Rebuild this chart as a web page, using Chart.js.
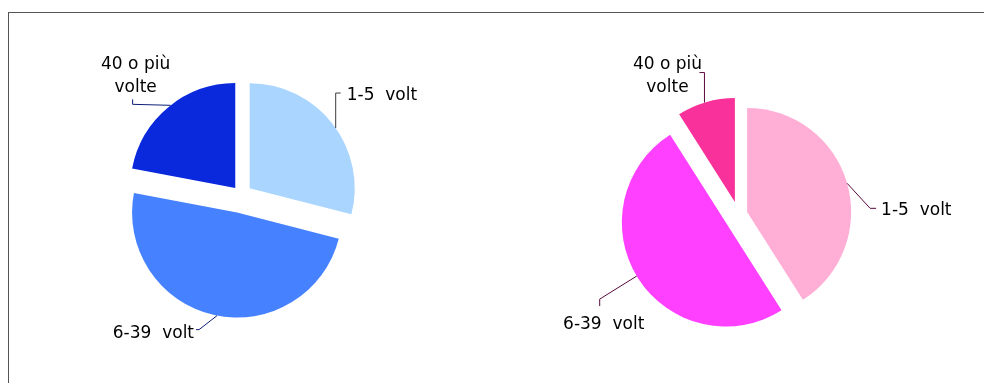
<!DOCTYPE html>
<html>
<head>
<meta charset="utf-8">
<script src="https://cdn.jsdelivr.net/npm/chart.js@4.4.1/dist/chart.umd.min.js"></script>
<style>
  html, body { margin: 0; padding: 0; background: #fff; overflow: hidden; }
  body { width: 984px; height: 383px; position: relative; }
  #frame {
    position: absolute; left: 8px; top: 12px; width: 990px; height: 400px;
    border-top: 1px solid #555; border-left: 1px solid #555;
  }
  canvas { position: absolute; }
  #pieLeft { left: 0px; top: 0px; }
  #pieRight { left: 493px; top: 0px; }
</style>
</head>
<body>
<div id="frame"></div>
<canvas id="pieLeft" width="482" height="390" style="width:482px;height:390px"></canvas>
<canvas id="pieRight" width="491" height="429" style="width:491px;height:429px"></canvas>
<script>
// categories (multi-line where the label wraps)
const categories = [["1-5  volt"], ["6-39  volt"], ["40 o più", "volte"]];

// share of each class, in percent
const valuesLeft = [29, 49, 22];
const valuesRight = [41, 50, 9];

const colorsLeft = ["#A9D5FF", "#4682FF", "#0A28DC"];
const colorsRight = ["#FFAED6", "#FF40FF", "#F8329A"];

// how far each slice is pulled out of the pie (px)
const explodeLeft = [11, 18, 9];
const explodeRight = [9, 15, 13];

// leader layout: anchor angle on the slice edge, line points and text spot relative to the anchor
const leadersLeft = [
  { angle: -35, color: "#3a3a3a", path: [[0, 0], [0, -35], [5, -35]], text: [11, -28], align: "left" },
  { angle: 101, color: "#0a1e78", path: [[0, 0], [-18, 14], [-21, 14]], text: [-23, 22], align: "right" },
  { angle: 232, color: "#0a1e78", path: [[0, 0], [-38, -1], [-38, -6]], text: [-35, -36], align: "center" }
];
const leadersRight = [
  { angle: -16, color: "#5a0a3c", path: [[0, 0], [23, 25], [29, 25]], text: [34, 32], align: "left" },
  { angle: 149, color: "#5a0a3c", path: [[0, 0], [-37, 23], [-37, 30]], text: [-33, 53], align: "center" },
  { angle: 253, color: "#5a0a3c", path: [[0, 0], [0, -30], [-5, -30]], text: [-37, -34], align: "center" }
];

// pull slices out along their middle angle
const explodePlugin = {
  id: "explode",
  beforeDatasetDraw(chart, args, opts) {
    const area = chart.chartArea;
    const cx = (area.left + area.right) / 2;
    const cy = (area.top + area.bottom) / 2;
    args.meta.data.forEach((arc, i) => {
      const d = opts.amounts[i] || 0;
      const mid = (arc.startAngle + arc.endAngle) / 2;
      arc.x = cx + Math.cos(mid) * d;
      arc.y = cy + Math.sin(mid) * d;
    });
  }
};

// category labels with leader lines
const leaderPlugin = {
  id: "leaders",
  afterDatasetsDraw(chart, args, opts) {
    const ctx = chart.ctx;
    const arcs = chart.getDatasetMeta(0).data;
    ctx.save();
    ctx.font = "17px 'DejaVu Sans'";
    ctx.fillStyle = "#000";
    ctx.textBaseline = "alphabetic";
    arcs.forEach((arc, i) => {
      const l = opts.layout[i];
      const a = l.angle * Math.PI / 180;
      const ax = arc.x + Math.cos(a) * arc.outerRadius;
      const ay = arc.y + Math.sin(a) * arc.outerRadius;
      ctx.strokeStyle = l.color;
      ctx.lineWidth = 1;
      ctx.beginPath();
      l.path.forEach((p, k) => {
        if (k === 0) ctx.moveTo(ax + p[0], ay + p[1]);
        else ctx.lineTo(ax + p[0], ay + p[1]);
      });
      ctx.stroke();
      ctx.textAlign = l.align;
      categories[i].forEach((line, k) => {
        ctx.fillText(line, ax + l.text[0], ay + l.text[1] + k * 23);
      });
    });
    ctx.restore();
  }
};

function makePie(id, values, colors, explode, layout, radius) {
  return new Chart(document.getElementById(id), {
    type: "pie",
    data: {
      labels: categories.map((c) => c.join(" ")),
      datasets: [{
        data: values,
        backgroundColor: colors,
        borderWidth: 0,
        hoverOffset: 0
      }]
    },
    options: {
      responsive: false,
      animation: false,
      radius: radius,
      layout: { padding: 0 },
      plugins: {
        legend: { display: false },
        tooltip: { enabled: false },
        explode: { amounts: explode },
        leaders: { layout: layout }
      },
      events: []
    },
    plugins: [explodePlugin, leaderPlugin]
  });
}

makePie("pieLeft", valuesLeft, colorsLeft, explodeLeft, leadersLeft, 105);
makePie("pieRight", valuesRight, colorsRight, explodeRight, leadersRight, 104);
</script>
</body>
</html>
